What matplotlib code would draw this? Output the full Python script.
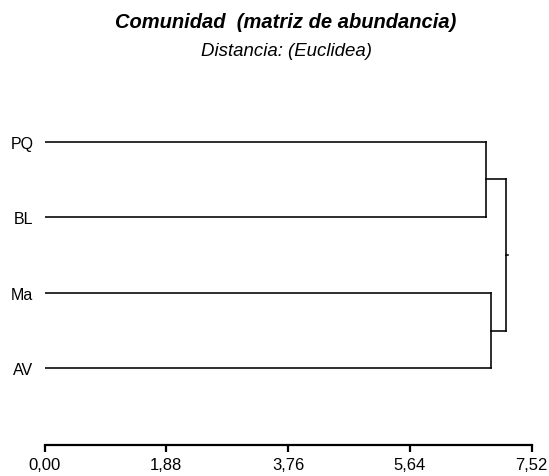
import matplotlib.pyplot as plt

# leaves, top to bottom
leaves = ['PQ', 'BL', 'Ma', 'AV']
# merge heights (Euclidean distance)
h_pq_bl = 6.81
h_ma_av = 6.89
h_root = 7.13
ticks = [0.00, 1.88, 3.76, 5.64, 7.52]
tick_labels = ['0,00', '1,88', '3,76', '5,64', '7,52']

plt.rcParams['font.family'] = ['Liberation Sans', 'DejaVu Sans']

fig = plt.figure(figsize=(5.49, 4.76), dpi=100)
# axis line at y=445 px, top at y=100 px
ax = fig.add_axes([44.5 / 549, 31 / 476, 487 / 549, 345 / 476])

ypos = {name: len(leaves) - 1 - i for i, name in enumerate(leaves)}
lw = 1.15
col = 'black'

# leaf branches
for name in ['PQ', 'BL']:
    ax.plot([0, h_pq_bl], [ypos[name], ypos[name]], color=col, lw=lw)
for name in ['Ma', 'AV']:
    ax.plot([0, h_ma_av], [ypos[name], ypos[name]], color=col, lw=lw)

# cluster verticals
ax.plot([h_pq_bl, h_pq_bl], [ypos['PQ'], ypos['BL']], color=col, lw=lw)
ax.plot([h_ma_av, h_ma_av], [ypos['Ma'], ypos['AV']], color=col, lw=lw)

# join to root
c1 = (ypos['PQ'] + ypos['BL']) / 2
c2 = (ypos['Ma'] + ypos['AV']) / 2
ax.plot([h_pq_bl, h_root], [c1, c1], color=col, lw=lw)
ax.plot([h_ma_av, h_root], [c2, c2], color=col, lw=lw)
ax.plot([h_root, h_root], [c1, c2], color=col, lw=lw)
ax.plot([h_root, h_root + 0.02], [(c1 + c2) / 2, (c1 + c2) / 2], color=col, lw=lw)

for name in leaves:
    ax.text(-0.17, ypos[name] - 0.095, name, ha='right', va='baseline', fontsize=11.5)

ax.set_xlim(0, 7.52)
ax.set_ylim(-1.016, 3.552)
ax.set_xticks(ticks)
ax.set_xticklabels(tick_labels, fontsize=12)
ax.set_yticks([])
for s in ['top', 'right', 'left']:
    ax.spines[s].set_visible(False)
ax.spines['bottom'].set_linewidth(1.6)
ax.spines['bottom'].set_bounds(0, 7.52)
ax.tick_params(axis='x', length=5, width=1.6, pad=4.5)

fig.text(286 / 549, 1 - 28 / 476, 'Comunidad  (matriz de abundancia)',
         ha='center', va='baseline', fontsize=14.5, fontweight='bold', style='italic')
fig.text(286.5 / 549, 1 - 56 / 476, 'Distancia: (Euclidea)',
         ha='center', va='baseline', fontsize=13.4, style='italic')

fig.savefig('out.png', dpi=100)
